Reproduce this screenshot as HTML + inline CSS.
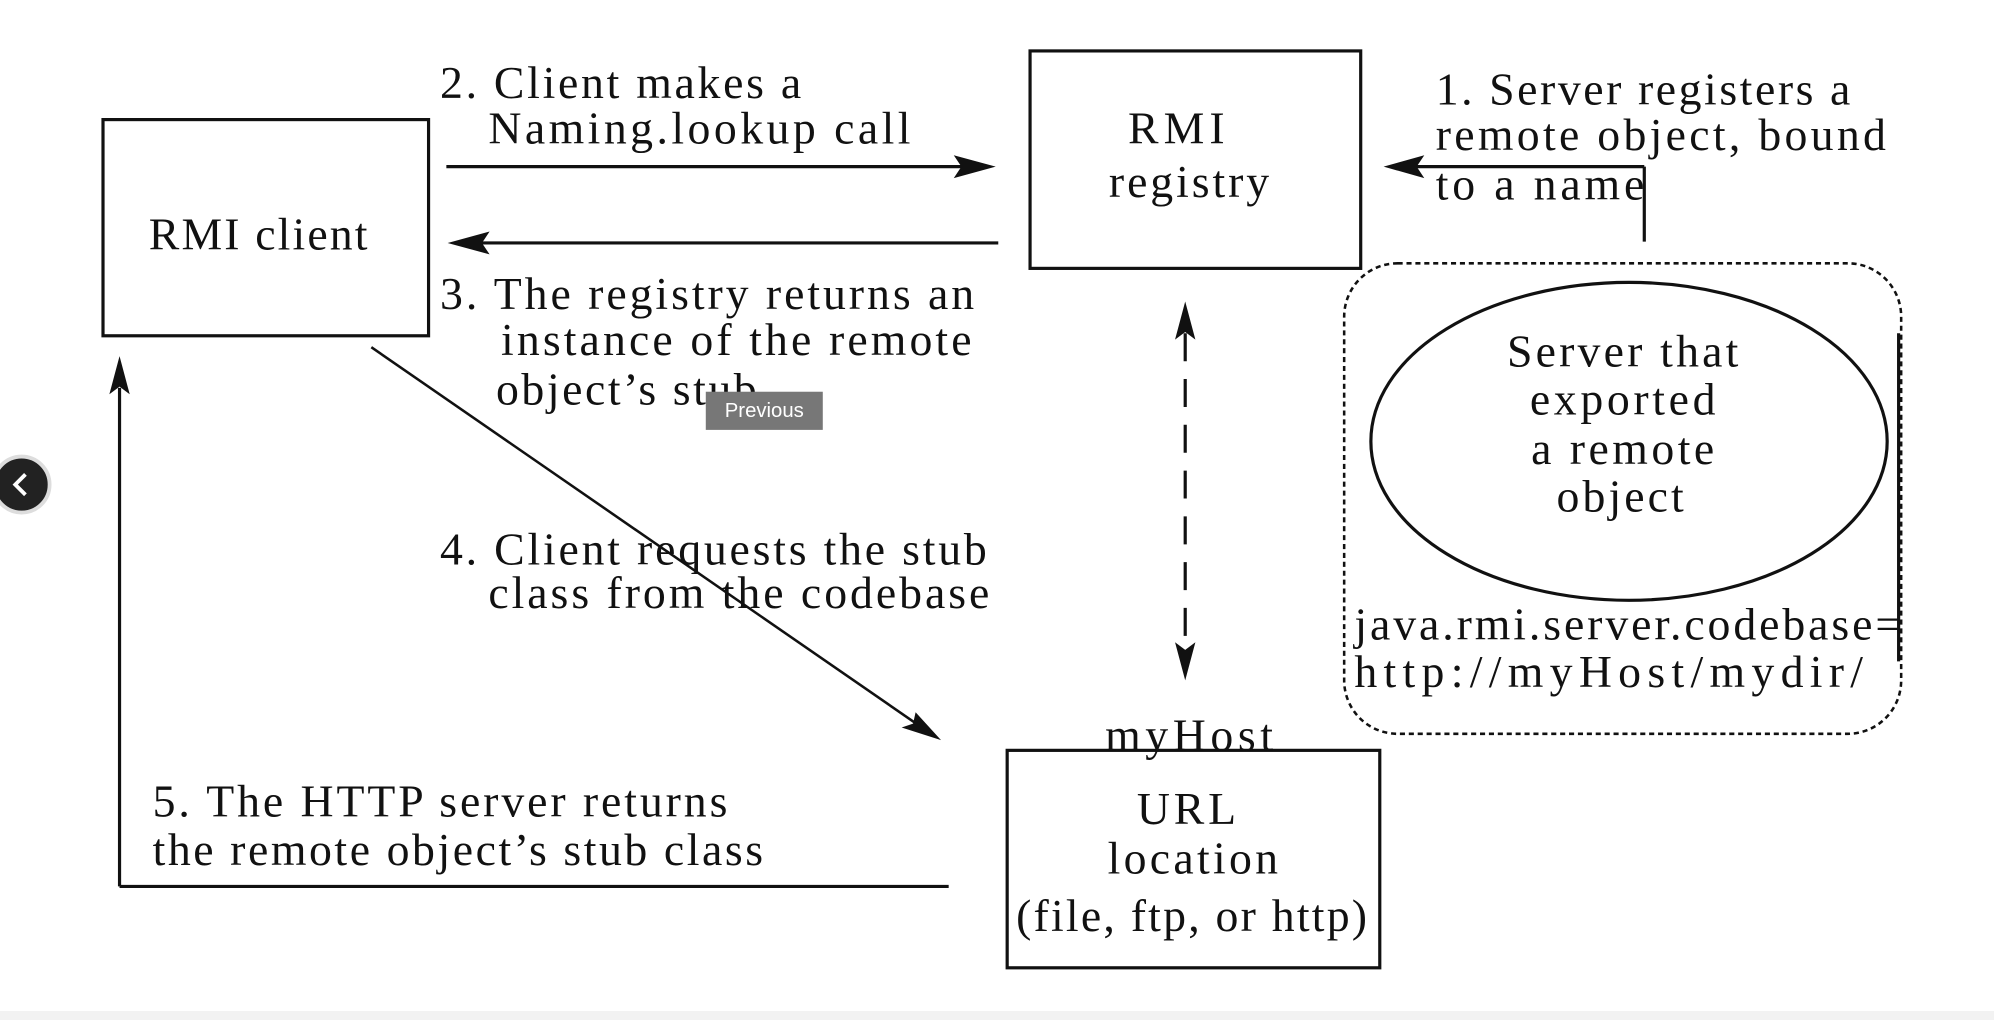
<!DOCTYPE html>
<html><head><style>html,body{margin:0;padding:0;background:#fff}svg{display:block}</style></head>
<body>
<svg width="1994" height="1020" viewBox="0 0 1568 802" xmlns="http://www.w3.org/2000/svg" font-family="Liberation Serif, serif" font-size="36" fill="#111">
<rect x="0" y="795" width="1568" height="7" fill="#f2f2f2"/>
<g fill="none" stroke="#111" stroke-width="2.5">
<rect x="81" y="94" width="256" height="170"/>
<rect x="810" y="40" width="260" height="171"/>
<rect x="792" y="590" width="293" height="171"/>
<line x1="351" y1="131" x2="760" y2="131"/>
<line x1="785" y1="191" x2="375" y2="191"/>
<line x1="1293" y1="131" x2="1110" y2="131"/>
<line x1="1293" y1="131" x2="1293" y2="190"/>
<line x1="1493" y1="262" x2="1493" y2="520"/>
<line x1="746" y1="697" x2="94" y2="697"/>
<line x1="94" y1="697" x2="94" y2="305"/>
<line x1="292" y1="273" x2="722" y2="570" stroke-width="2"/>
<line x1="932" y1="262" x2="932" y2="510" stroke-dasharray="22,14"/>
<ellipse cx="1281" cy="347" rx="203" ry="125"/>
<rect x="1057" y="207" width="438" height="370" rx="42" stroke-width="2" stroke-dasharray="4,3"/>
</g>
<g fill="#111">
<polygon points="783,131 750,122 756,131 750,140"/>
<polygon points="352,191 385,182 379,191 385,200"/>
<polygon points="1088,131 1120,122 1114,131 1120,140"/>
<polygon points="94,280 86,310 94,304 102,310"/>
<polygon points="932,237 924,267 932,261 940,267"/>
<polygon points="932,535 924,505 932,511 940,505"/>
<polygon points="740,582 709,572 718,569 720,560"/>
</g>
<text x="203" y="196" text-anchor="middle" textLength="172">RMI client</text>
<text x="346" y="77" textLength="284">2. Client makes a</text>
<text x="384" y="113" textLength="332">Naming.lookup call</text>
<text x="346" y="243" textLength="420">3. The registry returns an</text>
<text x="394" y="279" textLength="370">instance of the remote</text>
<text x="390" y="318" textLength="205">object’s stub</text>
<text x="925" y="113" text-anchor="middle" textLength="76">RMI</text>
<text x="935" y="155" text-anchor="middle" textLength="126">registry</text>
<text x="1129" y="82" textLength="326">1. Server registers a</text>
<text x="1129" y="118" textLength="354">remote object, bound</text>
<text x="1129" y="157" textLength="164">to a name</text>
<text x="1276" y="288" text-anchor="middle" textLength="182">Server that</text>
<text x="1276" y="326" text-anchor="middle" textLength="146">exported</text>
<text x="1276" y="365" text-anchor="middle" textLength="144">a remote</text>
<text x="1274" y="402" text-anchor="middle" textLength="100">object</text>
<text x="1065" y="503" textLength="430">java.rmi.server.codebase=</text>
<text x="1065" y="540" textLength="400">http://myHost/mydir/</text>
<text x="346" y="444" textLength="430">4. Client requests the stub</text>
<text x="384" y="478" textLength="394">class from the codebase</text>
<text x="935" y="590" text-anchor="middle" textLength="132">myHost</text>
<text x="933" y="648" text-anchor="middle" textLength="78">URL</text>
<text x="938" y="687" text-anchor="middle" textLength="134">location</text>
<text x="937" y="732" text-anchor="middle" textLength="276">(file, ftp, or http)</text>
<text x="120" y="642" textLength="452">5. The HTTP server returns</text>
<text x="120" y="680" textLength="480">the remote object’s stub class</text>
<rect x="555" y="308" width="92" height="30" fill="#777"/>
<text x="601" y="328" text-anchor="middle" font-family="Liberation Sans, sans-serif" font-size="16" fill="#fff">Previous</text>
<circle cx="17" cy="381" r="22" fill="#222" stroke="#ddd" stroke-width="3"/>
<polyline points="20,373 12,381 20,389" fill="none" stroke="#fff" stroke-width="3"/>
</svg>
</body></html>
